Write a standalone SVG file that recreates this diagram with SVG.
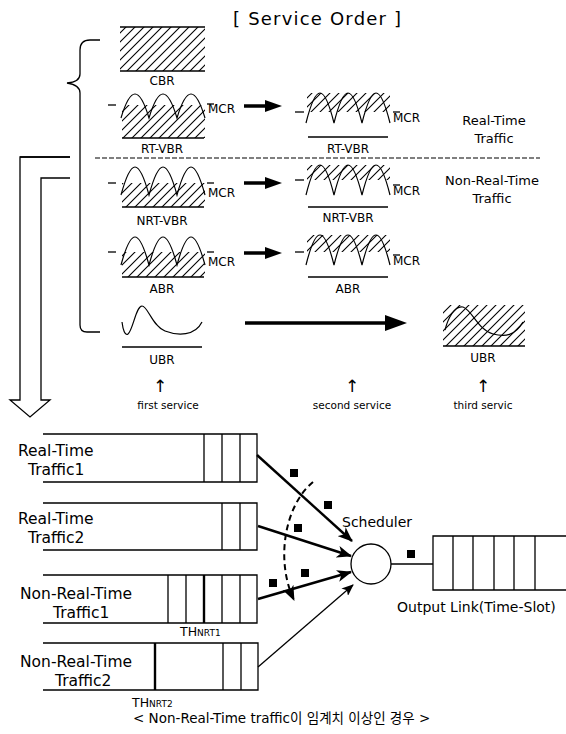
<svg xmlns="http://www.w3.org/2000/svg" width="566" height="734" viewBox="0 0 566 734">
<defs>
<style>
text{font-family:"DejaVu Sans","Noto Sans CJK KR",sans-serif;fill:#000}
.ln{stroke:#000;stroke-width:1.3;fill:none}
.thk{stroke:#000;stroke-width:2.4;fill:none}
.wv{stroke:#000;stroke-width:1.2;fill:none}
.hatch{fill:url(#hp);stroke:none}
.lbl{font-size:12px;text-anchor:middle}
.mcr{font-size:12px}
.side{font-size:13px;text-anchor:middle}
.big{font-size:15.5px}
.pk{fill:#000}
.up{font-size:17px;text-anchor:middle}
.svc{font-size:10.5px;text-anchor:middle}
</style>
<pattern id="hp" patternUnits="userSpaceOnUse" width="9" height="9">
<path d="M-1,1 L1,-1 M0,9 L9,0 M8,10 L10,8" stroke="#000" stroke-width="1.1"/>
</pattern>
<marker id="ah" markerUnits="userSpaceOnUse" markerWidth="16" markerHeight="12" refX="14" refY="6" orient="auto">
<path d="M0,0 L15,6 L0,12 L4,6 z" fill="#000"/>
</marker>
<marker id="ahs" markerUnits="userSpaceOnUse" markerWidth="12" markerHeight="10" refX="11" refY="5" orient="auto">
<path d="M0,0 L12,5 L0,10 L3,5 z" fill="#000"/>
</marker>
</defs>

<text x="233" y="25" font-size="18" letter-spacing="1.2">[ Service Order ]</text>

<g id="brace"><path class="ln" d="M100,40 L90,40 Q80,40 80,50 L80,74 Q80,82 67,83 Q80,85 80,93 L80,325 Q80,332 87,332 L100,332"/></g>

<g id="down-arrow"><path class="ln" d="M70,157 L20,157 L20,400 L10,400 L30,417 L50,400 L41,400 L41,178 L70,178"/><line class="ln" x1="20" y1="157" x2="70" y2="157" stroke-width="2"/></g>

<line id="divider" x1="95" y1="158" x2="540" y2="158" stroke="#000" stroke-width="1.2" stroke-dasharray="5,2"/>

<g id="cbr">
<rect class="hatch" x="120" y="27" width="85" height="44"/>
<line class="ln" x1="120" y1="27" x2="205" y2="27"/>
<line class="ln" x1="120" y1="71" x2="205" y2="71"/>
<text class="lbl" x="162" y="85">CBR</text>
</g>

<g id="rtvbr-left">
<rect class="hatch" x="122" y="105" width="83" height="33"/>
<path class="wv" d="M121,118 C124,108 129,94 135,94 C141,94 146,108 149,118 C152,108 157,94 163,94 C169,94 174,108 177,118 C180,108 185,94 191,94 C197,94 202,108 205,118"/>
<line class="ln" x1="108" y1="105" x2="116" y2="105"/>
<line class="ln" x1="207" y1="104" x2="214" y2="104"/>
<line class="ln" x1="122" y1="138" x2="204" y2="138"/>
<text class="mcr" x="208" y="113">MCR</text>
<text class="lbl" x="162" y="153">RT-VBR</text>
</g>

<g id="nrtvbr-left">
<rect class="hatch" x="122" y="183" width="83" height="24"/>
<path class="wv" d="M121,195 C124,184 129,167 135,167 C141,167 146,184 149,195 C152,184 157,167 163,167 C169,167 174,184 177,195 C180,184 185,167 191,167 C197,167 202,184 205,195"/>
<line class="ln" x1="108" y1="183" x2="116" y2="183"/>
<line class="ln" x1="207" y1="183" x2="214" y2="183"/>
<line class="ln" x1="122" y1="207" x2="204" y2="207"/>
<text class="mcr" x="208" y="197">MCR</text>
<text class="lbl" x="162" y="225">NRT-VBR</text>
</g>

<g id="abr-left">
<rect class="hatch" x="122" y="252" width="83" height="25"/>
<path class="wv" d="M121,265 C124,254 129,237 135,237 C141,237 146,254 149,265 C152,254 157,237 163,237 C169,237 174,254 177,265 C180,254 185,237 191,237 C197,237 202,254 205,265"/>
<line class="ln" x1="108" y1="252" x2="116" y2="252"/>
<line class="ln" x1="207" y1="252" x2="214" y2="252"/>
<line class="ln" x1="122" y1="277" x2="204" y2="277"/>
<text class="mcr" x="208" y="266">MCR</text>
<text class="lbl" x="162" y="293">ABR</text>
</g>

<g id="ubr-left">
<path class="wv" d="M122,322 C123,330 125,336 128,334 C133,330 136,306 142,306 C148,306 152,326 165,331 C178,336 195,336 202,322"/>
<line class="ln" x1="122" y1="347" x2="202" y2="347" stroke-width="1.6"/>
<text class="lbl" x="162" y="364">UBR</text>
</g>

<g id="rtvbr-right">
<rect class="hatch" x="307" y="93" width="83" height="19"/>
<path class="wv" d="M306,123 C309,111 314,93 320,93 C326,93 331,111 334,123 C337,111 342,93 348,93 C354,93 359,111 362,123 C365,111 370,93 376,93 C382,93 387,111 390,123"/>
<line class="ln" x1="295" y1="112" x2="304" y2="112"/>
<line class="ln" x1="393" y1="112" x2="400" y2="112"/>
<line class="ln" x1="308" y1="137" x2="388" y2="137"/>
<text class="mcr" x="393" y="122">MCR</text>
<text class="lbl" x="348" y="153">RT-VBR</text>
</g>

<g id="nrtvbr-right">
<rect class="hatch" x="307" y="165" width="83" height="15"/>
<path class="wv" d="M306,195 C309,183 314,165 320,165 C326,165 331,183 334,195 C337,183 342,165 348,165 C354,165 359,183 362,195 C365,183 370,165 376,165 C382,165 387,183 390,195"/>
<line class="ln" x1="295" y1="180" x2="304" y2="180"/>
<line class="ln" x1="393" y1="185" x2="400" y2="185"/>
<line class="ln" x1="308" y1="207" x2="388" y2="207"/>
<text class="mcr" x="393" y="195">MCR</text>
<text class="lbl" x="348" y="222">NRT-VBR</text>
</g>

<g id="abr-right">
<rect class="hatch" x="307" y="235" width="83" height="17"/>
<path class="wv" d="M306,265 C309,253 314,235 320,235 C326,235 331,253 334,265 C337,253 342,235 348,235 C354,235 359,253 362,265 C365,253 370,235 376,235 C382,235 387,253 390,265"/>
<line class="ln" x1="295" y1="252" x2="304" y2="252"/>
<line class="ln" x1="393" y1="255" x2="400" y2="255"/>
<line class="ln" x1="308" y1="277" x2="388" y2="277"/>
<text class="mcr" x="393" y="265">MCR</text>
<text class="lbl" x="348" y="293">ABR</text>
</g>

<g id="ubr-right">
<rect class="hatch" x="443" y="305" width="82" height="41"/>
<path class="wv" d="M445,330 C448,318 455,305 463,307 C472,310 478,330 493,334 C505,337 515,336 523,322"/>
<line class="ln" x1="443" y1="346" x2="525" y2="346"/>
<text class="lbl" x="483" y="362">UBR</text>
</g>

<g id="traffic-labels">
<text class="side" x="494" y="125">Real-Time</text>
<text class="side" x="494" y="143">Traffic</text>
<text class="side" x="492" y="185">Non-Real-Time</text>
<text class="side" x="492" y="203">Traffic</text>
</g>

<g id="service-arrows">
<line x1="244" y1="106" x2="268" y2="106" stroke="#000" stroke-width="3.5"/>
<polygon points="265,100 282,106 265,112" fill="#000"/>
<line x1="244" y1="183" x2="268" y2="183" stroke="#000" stroke-width="3.5"/>
<polygon points="265,177 282,183 265,189" fill="#000"/>
<line x1="244" y1="253" x2="268" y2="253" stroke="#000" stroke-width="3.5"/>
<polygon points="265,247 282,253 265,259" fill="#000"/>
<line x1="245" y1="323" x2="390" y2="323" stroke="#000" stroke-width="3.5"/>
<polygon points="385,315 407,323 385,331" fill="#000"/>
</g>

<g id="service-labels">
<text class="up" x="160" y="392">↑</text>
<text class="up" x="352" y="392">↑</text>
<text class="up" x="483" y="392">↑</text>
<text class="svc" x="168" y="409">first service</text>
<text class="svc" x="352" y="409">second service</text>
<text class="svc" x="483" y="409">third servic</text>
</g>

<g id="q-rt1">
<path class="ln" d="M43,434 L257,434 L257,482 L43,482 M204,434 V482 M222,434 V482 M240,434 V482"/>
<text class="big" x="18" y="456">Real-Time</text>
<text class="big" x="28" y="475">Traffic1</text>
</g>
<g id="q-rt2">
<path class="ln" d="M43,503 L257,503 L257,550 L43,550 M222,503 V550 M240,503 V550"/>
<text class="big" x="18" y="524">Real-Time</text>
<text class="big" x="28" y="543">Traffic2</text>
</g>
<g id="q-nrt1">
<path class="ln" d="M43,575 L257,575 L257,623 L43,623 M168,575 V623 M186,575 V623 M222,575 V623 M240,575 V623"/>
<line x1="204" y1="575" x2="204" y2="623" stroke="#000" stroke-width="2.4"/>
<text class="big" x="20" y="599">Non-Real-Time</text>
<text class="big" x="53" y="618">Traffic1</text>
<text x="180" y="636" font-size="12.5">TH<tspan font-size="9">NRT1</tspan></text>
</g>
<g id="q-nrt2">
<path class="ln" d="M43,643 L258,643 L258,690 L43,690 M223,643 V690 M241,643 V690"/>
<line x1="155" y1="643" x2="155" y2="690" stroke="#000" stroke-width="2.4"/>
<text class="big" x="20" y="667">Non-Real-Time</text>
<text class="big" x="55" y="686">Traffic2</text>
<text x="132" y="707" font-size="12.5">TH<tspan font-size="9">NRT2</tspan></text>
</g>

<g id="scheduler">
<circle cx="371" cy="564" r="20" fill="#fff" stroke="#000" stroke-width="1.3"/>
<text x="342" y="527" font-size="14">Scheduler</text>
</g>

<g id="output-link">
<path class="ln" d="M566,536 L433,536 L433,590 L566,590 M453,536 V590 M473,536 V590 M494,536 V590 M514,536 V590 M535,536 V590"/>
<text x="397" y="612" font-size="14">Output Link(Time-Slot)</text>
</g>

<g id="connectors">
<line x1="257" y1="455" x2="352" y2="541" class="thk" marker-end="url(#ah)"/>
<line x1="258" y1="526" x2="351" y2="556" class="thk" marker-end="url(#ah)"/>
<line x1="258" y1="599" x2="351" y2="572" class="thk" marker-end="url(#ah)"/>
<line x1="258" y1="667" x2="353" y2="585" class="ln" marker-end="url(#ahs)"/>
<line x1="391" y1="564" x2="433" y2="564" class="ln"/>
<path d="M313,482 C285,505 275,560 294,600" stroke="#000" stroke-width="2" fill="none" stroke-dasharray="6,4" marker-end="url(#ah)"/>
</g>

<g id="packets">
<rect class="pk" x="290" y="469" width="8" height="8"/>
<rect class="pk" x="324" y="501" width="8" height="8"/>
<rect class="pk" x="294" y="524" width="8" height="8"/>
<rect class="pk" x="301" y="569" width="8" height="8"/>
<rect class="pk" x="269" y="579" width="8" height="8"/>
<rect class="pk" x="407" y="550" width="8" height="8"/>
</g>

<text x="133" y="723" font-size="13.5">&lt; Non-Real-Time traffic이 임계치 이상인 경우 &gt;</text>
</svg>
